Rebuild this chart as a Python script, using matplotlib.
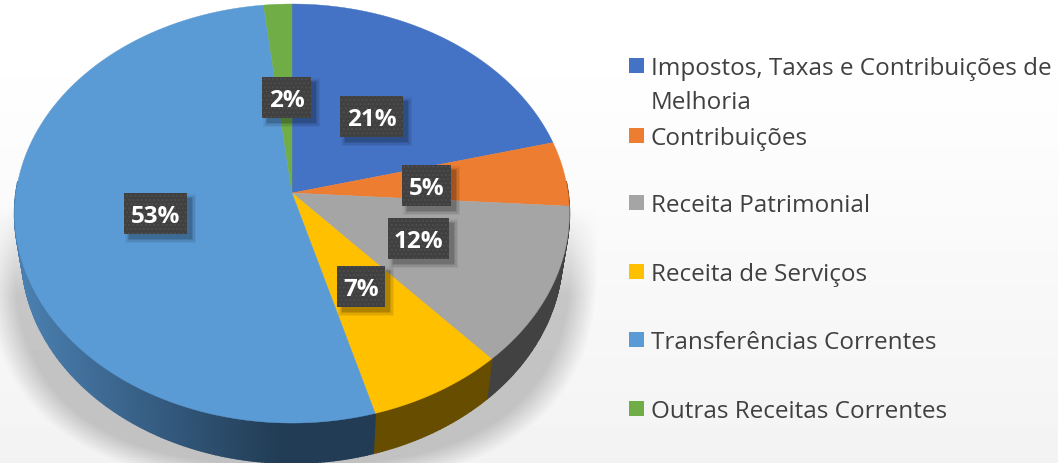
import numpy as np
import matplotlib
matplotlib.use("Agg")
from matplotlib import pyplot as plt
from matplotlib.patches import Rectangle

categories = ["Impostos, Taxas e Contribuições de\nMelhoria", "Contribuições", "Receita Patrimonial",
              "Receita de Serviços", "Transferências Correntes", "Outras Receitas Correntes"]
# shares, the printed labels are these rounded
shares = [21.0, 5.0, 12.3, 7.3, 52.6, 1.8]
colors = ["#4472c4", "#ed7d31", "#a5a5a5", "#ffc000", "#5b9bd5", "#70ad47"]
side_colors = ["#2a4474", "#8e4b1d", "#424242", "#664d00", "#223c55", "#43682b"]

legend_y = [66, 136, 203, 272, 340, 409]
label_boxes = [(340, 96, 63), (402, 165, 49), (388, 218, 61), (337, 266, 48), (124, 193, 63), (262, 77, 49)]

plt.rcParams['font.family'] = ['Open Sans', 'DejaVu Sans']

CX, CY = 292, 193
B, A, K = 276, 207.5, 0.098
DEPTH = 40


def top_point(t):
    # circle seen in perspective, t is the clockwise angle from 12 o'clock
    u, v = np.sin(t), np.cos(t)
    den = 1 + K * v
    return CX + B * u / den, CY - A * v / den


def bottom_point(t):
    x, y = top_point(t)
    return CX + (x - CX) * 0.975, y + DEPTH


def background():
    yy, xx = np.mgrid[0:463, 0:1058]
    base = 255 - 12 * np.clip((yy - 40) / 423, 0, 1)
    d = (np.abs((xx - CX) / 312.0) ** 2.6 + np.abs((yy - 250) / 240.0) ** 2.6) ** (1 / 2.6)
    edge = np.clip((0.98 - d) / 0.09, 0, 1)
    fade = np.clip((yy - 205) / 90, 0, 1)
    return base - 50 * edge * fade


fig = plt.figure(figsize=(10.58, 4.63), dpi=100)
ax = fig.add_axes([0, 0, 1, 1])
ax.set_xlim(0, 1058)
ax.set_ylim(463, 0)
ax.axis("off")
ax.imshow(background(), cmap="gray", vmin=0, vmax=255, extent=(0, 1058, 463, 0), aspect="auto", zorder=0)

edges = np.cumsum([0] + shares) / 100 * 2 * np.pi

# sides first, the top faces cover whatever sticks out
for i in range(len(shares)):
    ts = np.linspace(edges[i], edges[i + 1], max(int(shares[i] * 6), 4))
    for t0, t1 in zip(ts[:-1], ts[1:]):
        if np.cos(t0) > 0.05 and np.cos(t1) > 0.05:
            continue  # back of the pie, never seen
        x0, y0 = top_point(t0)
        x1, y1 = top_point(t1)
        x2, y2 = bottom_point(t1)
        x3, y3 = bottom_point(t0)
        c = side_colors[i]
        if i == 4:
            f = np.clip((x0 - 20) / 260, 0, 1)
            c = (np.array([74, 127, 176]) * (1 - f) + np.array([34, 60, 85]) * f) / 255
        ax.fill([x0, x1, x2, x3], [y0, y1, y2, y3], color=c, lw=1.2, zorder=2)

for i in range(len(shares)):
    ts = np.linspace(edges[i], edges[i + 1], 120)
    x, y = top_point(ts)
    ax.fill(np.r_[CX, x], np.r_[CY, y], color=colors[i], lw=0.3, zorder=3)

for share, (bx, by, bw) in zip(shares, label_boxes):
    # soft shadow, a few stacked rectangles
    for grow, alpha in [(4, 0.05), (2.5, 0.08), (1, 0.1), (0, 0.12)]:
        ax.add_patch(Rectangle((bx + 5 - grow, by + 5 - grow), bw + 2 * grow, 41 + 2 * grow, fc="black",
                               alpha=alpha, lw=0, zorder=4))
    ax.add_patch(Rectangle((bx, by), bw, 41, fc="#404040", ec="#4d4d4d", hatch="....", lw=0, zorder=5))
    ax.text(bx + bw / 2, by + 21, f"{round(share)}%", color="white", fontsize=17.5, fontweight="bold",
            ha="center", va="center_baseline", zorder=6)

for y, name, c in zip(legend_y, categories, colors):
    ax.add_patch(Rectangle((629, y - 8), 15, 15, fc=c, lw=0, zorder=3))
    lines = name.split("\n")
    for j, line in enumerate(lines):
        ax.text(651, y + j * 34, line, color="#404040", fontsize=17.5, ha="left", va="center_baseline", zorder=3)

fig.savefig("out.png", dpi=100)
